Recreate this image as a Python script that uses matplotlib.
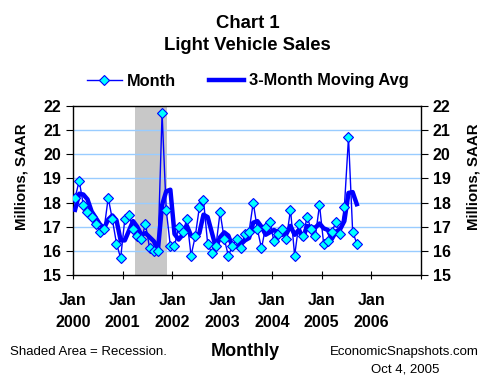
import numpy as np
import pandas as pd
import matplotlib
matplotlib.use('Agg')
import matplotlib.pyplot as plt

plt.rcParams['font.family'] = ['Liberation Sans', 'DejaVu Sans']

# Light vehicle sales, millions SAAR, Jan 2000 - Sep 2005
prior_months = [16.9, 18.0]  # Nov, Dec 1999 (only used for the moving average)
sales = [
    18.2, 18.9, 17.9, 17.6, 17.4, 17.1, 16.8, 16.9, 18.2, 17.3, 16.3, 15.7,  # 2000
    17.3, 17.5, 16.9, 16.6, 16.5, 17.1, 16.1, 16.0, 16.0, 21.7, 17.7, 16.2,  # 2001
    16.2, 17.0, 16.8, 17.3, 15.8, 16.6, 17.8, 18.1, 16.3, 15.9, 16.2, 17.6,  # 2002
    16.5, 15.8, 16.2, 16.5, 16.1, 16.7, 16.8, 18.0, 16.9, 16.1, 17.0, 17.2,  # 2003
    16.4, 16.7, 16.9, 16.5, 17.7, 15.8, 17.1, 16.6, 17.4, 16.9, 16.6, 17.9,  # 2004
    16.3, 16.4, 16.8, 17.2, 16.7, 17.8, 20.7, 16.8, 16.3,                    # 2005
]
start_year = 2000
tick_years = [2000, 2001, 2002, 2003, 2004, 2005, 2006]
recession = (2001.25, 2001.9)

# positions: mid-month in fractional years
x = start_year + (np.arange(len(sales)) + 0.5) / 12
full = pd.Series(prior_months + sales)
ma = full.rolling(3).mean().iloc[len(prior_months):].to_numpy()

fig = plt.figure(figsize=(4.95, 3.89), dpi=100)
ax = fig.add_axes([73 / 495, 1 - 275 / 389, 348 / 495, 169 / 389])

ax.axvspan(recession[0], recession[1], color='#c8c8c8', zorder=0, lw=0)
for v in range(16, 22):
    ax.axhline(v, color='#99ccff', lw=1, zorder=1)

ax.plot(x, sales, color='#0000ff', lw=1, marker='D', ms=5.5,
        mfc='#00ffff', mec='#0000ff', mew=0.8, label='Month', zorder=4)
ax.plot(x, ma, color='#0000ff', lw=3.2, label='3-Month Moving Avg', zorder=3)

ax.set_xlim(2000, 2007)
ax.set_ylim(15, 22)
ax.set_yticks(range(15, 23))
ax.set_xticks(tick_years + [2007])
ax.set_xticklabels([f'Jan\n{y}' for y in tick_years] + [''])
ax.tick_params(axis='x', direction='inout', length=6, pad=10, labelsize=11.5)
ax.tick_params(axis='y', direction='out', length=5, labelsize=11.5,
               right=True, labelright=True)
for lab in ax.get_xticklabels() + ax.get_yticklabels():
    lab.set_fontweight('bold')
for lab in ax.get_xticklabels():
    lab.set_linespacing(1.6)
for s in ax.spines.values():
    s.set_color('black')
    s.set_linewidth(1)

for xl in (22, 474):
    fig.text(xl / 495, 1 - 177 / 389, 'Millions, SAAR', rotation=90,
             ha='center', va='center', fontsize=10.8, fontweight='bold')

fig.text(0.5, 1 - 23 / 389, 'Chart 1', ha='center', va='center',
         fontsize=13.3, fontweight='bold')
fig.text(0.5, 1 - 46 / 389, 'Light Vehicle Sales', ha='center', va='center',
         fontsize=13.3, fontweight='bold')
fig.legend(loc='center', bbox_to_anchor=(0.5, 1 - 81 / 389), ncol=2,
           frameon=False, prop={'weight': 'bold', 'size': 11.8},
           handlelength=2.15, columnspacing=2.0, handletextpad=0.3)

fig.text(245 / 495, 1 - 352 / 389, 'Monthly', ha='center', va='center',
         fontsize=13, fontweight='bold')
fig.text(10 / 495, 1 - 352 / 389, 'Shaded Area = Recession.', ha='left',
         va='center', fontsize=9.5)
fig.text(479 / 495, 1 - 352 / 389, 'EconomicSnapshots.com', ha='right',
         va='center', fontsize=9.5)
fig.text(439 / 495, 1 - 369 / 389, 'Oct 4, 2005', ha='right',
         va='center', fontsize=9.5)

fig.savefig('out.png', dpi=100)
